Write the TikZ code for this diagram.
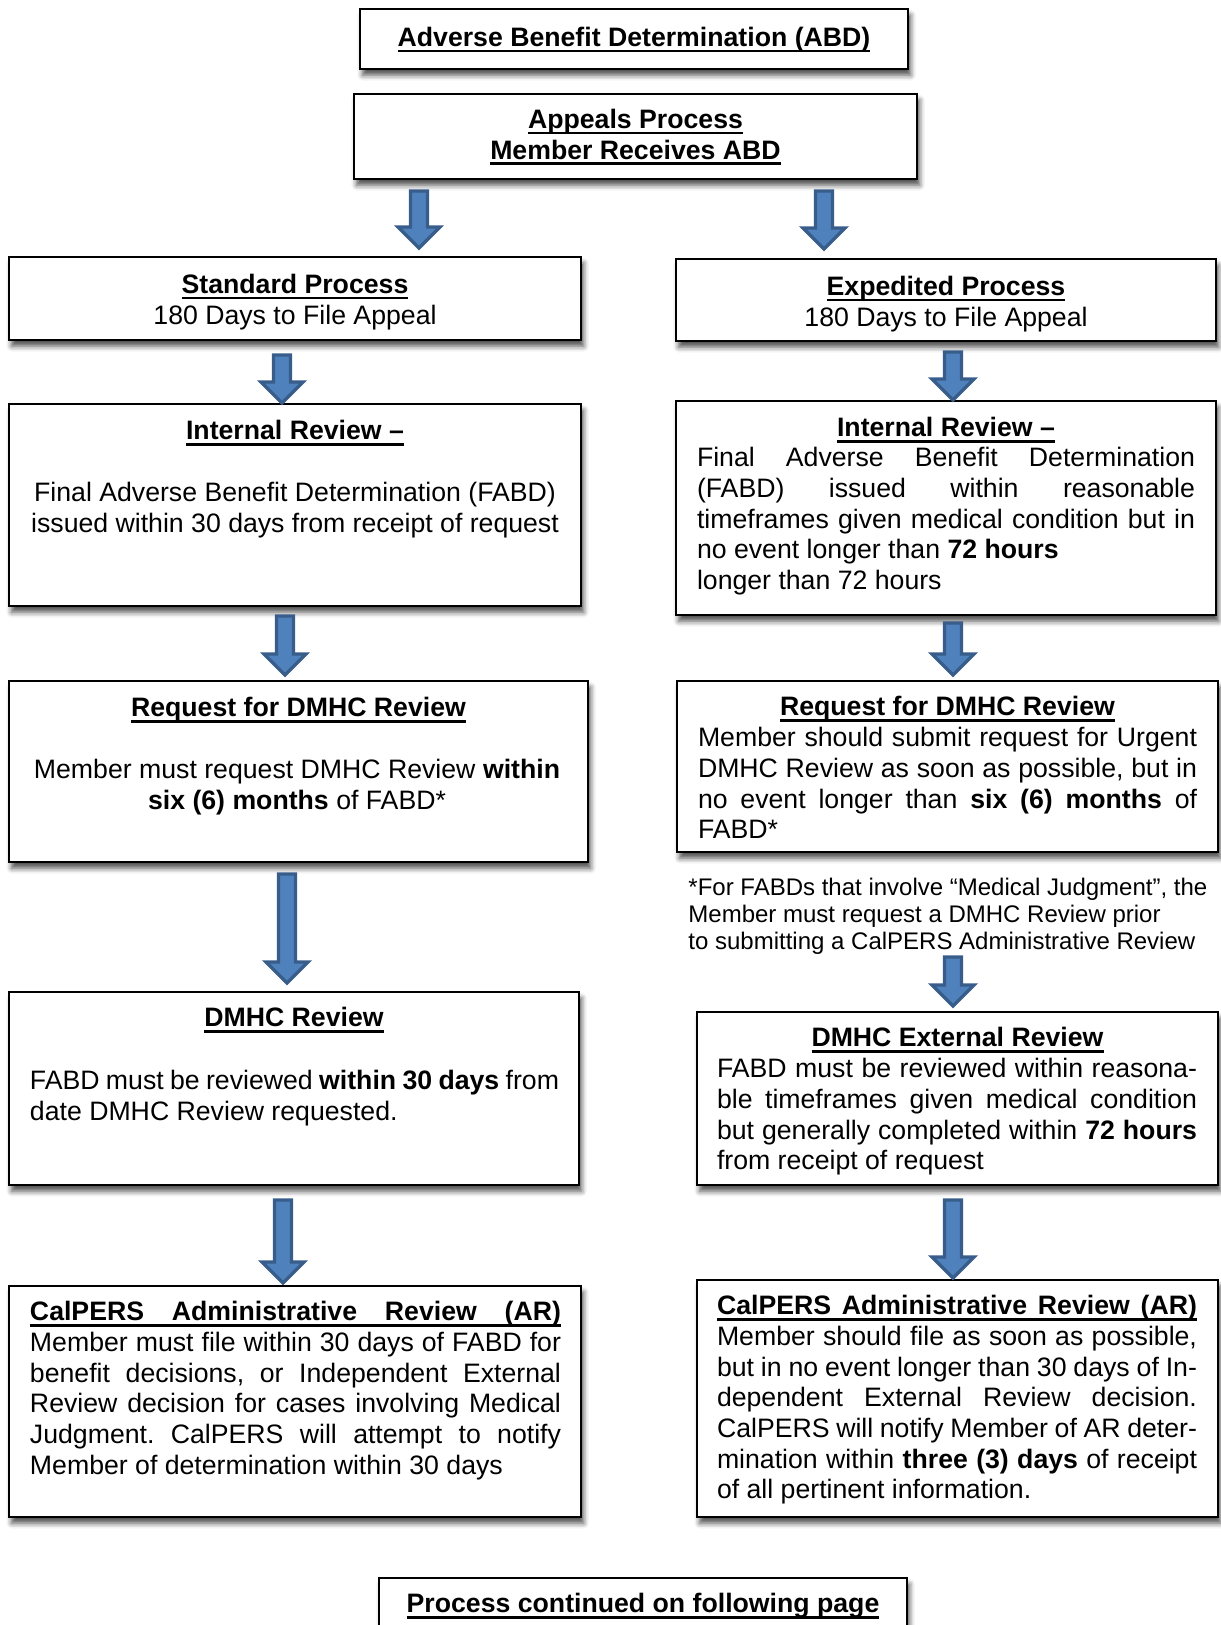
\documentclass[tikz,border=0pt]{standalone}
\usepackage{fontspec}
\setmainfont{Liberation Sans}
\usetikzlibrary{calc,shadows.blur}
\setlength{\parindent}{0pt}
\frenchspacing
\definecolor{arrfill}{HTML}{4F81BD}
\definecolor{arrline}{HTML}{385D8A}
\newcommand\uln[1]{\setbox0=\hbox{#1}\leavevmode\rlap{\rule[-2.5pt]{\wd0}{1.05pt}}\box0}
\newcommand\jl[1]{{\spaceskip=0pt\xspaceskip=0pt\makebox[\hsize][s]{#1}}}
\newcommand\mkbox[5]{%
  \pgfmathsetmacro\bw{(#4-#2)*0.45}\pgfmathsetmacro\bh{(#5-#3)*0.45}%
  \node[pbox, minimum width=\bw pt, minimum height=\bh pt] (#1) at ({(#2+#4)/2},{(#3+#5)/2}) {};}
\newcommand\blockarr[3]{%
  \coordinate (ba-s) at (#1);
  \coordinate (ba-e) at ($(ba-s |- #2)+(0,-#3)$);
  \draw[barrow] ($(ba-s)+(-8.5,0)$) -- ($(ba-s)+(8.5,0)$) -- ($(ba-e)+(8.5,-21)$) -- ($(ba-e)+(21,-21)$) -- (ba-e) -- ($(ba-e)+(-21,-21)$) -- ($(ba-e)+(-8.5,-21)$) -- cycle;}
\tikzset{
  pbox/.style={draw=black, line width=0.9pt, fill=white, rectangle, inner sep=0pt,
    blur shadow={shadow xshift=1.2pt, shadow yshift=-2.8pt, shadow blur radius=2.4pt, shadow opacity=70}},
  txt/.style={font=\fontsize{12pt}{13.8pt}\selectfont, inner sep=0pt, outer sep=0pt, anchor=north},
  ctxt/.style={txt, align=flush center, text width=252pt},
  jtxt/.style={txt, align=flush left},
  notetxt/.style={font=\fontsize{10.8pt}{12.2pt}\selectfont, inner sep=0pt, anchor=north west, align=flush left},
  barrow/.style={draw=arrline, fill=arrfill, line width=1.5pt, line join=miter},
}
\begin{document}
\begin{tikzpicture}[x=0.45pt, y=-0.45pt]
\useasboundingbox (0,0) rectangle (1220,1625);
% boxes
\mkbox{abd}{360}{9}{908}{69}
\mkbox{app}{354}{94}{917}{179}
\mkbox{std}{9}{257}{581}{340}
\mkbox{exp}{676}{259}{1216}{341}
\mkbox{intL}{9}{404}{581}{606}
\mkbox{intR}{676}{401}{1216}{615}
\mkbox{reqL}{9}{681}{588}{862}
\mkbox{reqR}{677}{681}{1218}{852}
\mkbox{dmL}{9}{992}{579}{1185}
\mkbox{dmE}{697}{1012}{1218}{1185}
\mkbox{calL}{9}{1286}{581}{1517}
\mkbox{calR}{697}{1280}{1218}{1517}
\mkbox{cont}{379}{1578}{907}{1660}
% texts
\node[ctxt] (abdT) at (634,25) {\strut\uln{\textbf{Adverse Benefit Determination (ABD)}}};
\node[ctxt] (appT) at (635.5,107) {\strut\uln{\textbf{Appeals Process}}\\\uln{\textbf{Member Receives ABD}}};
\node[ctxt] (stdT) at (295,272) {\strut\uln{\textbf{Standard Process}}\\180 Days to File Appeal};
\node[ctxt] (expT) at (946,274) {\strut\uln{\textbf{Expedited Process}}\\180 Days to File Appeal};
\node[ctxt] (intLH) at (295,418.5) {\strut\uln{\textbf{Internal Review –}}};
\node[ctxt] (intLB) at (295,480.5) {\strut Final Adverse Benefit Determination (FABD)\\issued within 30 days from receipt of request};
\node[ctxt] (intRH) at (946,415.5) {\strut\uln{\textbf{Internal Review –}}};
\node[jtxt, text width=224.1pt] (intRB) at (946,445.5) {\strut\jl{Final Adverse Benefit Determination}\\\jl{(FABD) issued within reasonable}\\\jl{timeframes given medical condition but in}\\no event longer than \textbf{72 hours}\\longer than 72 hours};
\node[ctxt] (reqLH) at (298.5,695.5) {\strut\uln{\textbf{Request for DMHC Review}}};
\node[ctxt] (reqLB) at (297,757.5) {\strut Member must request DMHC Review \textbf{within}\\\textbf{six (6) months} of FABD*};
\node[ctxt] (reqRH) at (947.5,694.5) {\strut\uln{\textbf{Request for DMHC Review}}};
\node[jtxt, text width=224.55pt] (reqRB) at (947.5,725.5) {\strut\jl{Member should submit request for Urgent}\\\jl{DMHC Review as soon as possible, but in}\\\jl{no event longer than \textbf{six (6) months} of}\\FABD*};
\node[notetxt] (note) at (688,876) {\strut*For FABDs that involve “Medical Judgment”, the\\Member must request a DMHC Review prior\\to submitting a CalPERS Administrative Review};
\node[ctxt] (dmLH) at (294,1005.5) {\strut\uln{\textbf{DMHC Review}}};
\node[jtxt, text width=238.05pt] (dmLB) at (294.5,1068.5) {\strut\jl{FABD must be reviewed \textbf{within 30 days} from}\\date DMHC Review requested.};
\node[ctxt] (dmEH) at (957.5,1025.5) {\strut\uln{\textbf{DMHC External Review}}};
\node[jtxt, text width=216pt] (dmEB) at (957,1056.5) {\strut\jl{FABD must be reviewed within reasona-}\\\jl{ble timeframes given medical condition}\\\jl{but generally completed within \textbf{72 hours}}\\from receipt of request};
\node[jtxt, text width=238.95pt] (calLB) at (295.5,1299.5) {\strut\uln{\jl{\textbf{CalPERS Administrative Review (AR)}}}\\\jl{Member must file within 30 days of FABD for}\\\jl{benefit decisions, or Independent External}\\\jl{Review decision for cases involving Medical}\\\jl{Judgment. CalPERS will attempt to notify}\\Member of determination within 30 days};
\node[jtxt, text width=216pt] (calRB) at (957,1293.5) {\strut\uln{\jl{\textbf{CalPERS Administrative Review (AR)}}}\\\jl{Member should file as soon as possible,}\\\jl{but in no event longer than 30 days of In-}\\\jl{dependent External Review decision.}\\\jl{CalPERS will notify Member of AR deter-}\\\jl{mination within \textbf{three (3) days} of receipt}\\of all pertinent information.};
\node[ctxt] (contT) at (643,1591.5) {\strut\uln{\textbf{Process continued on following page}}};
% arrows
\blockarr{$(app.south)+(-216.5,11)$}{std.north}{8}
\blockarr{$(app.south)+(188.5,11)$}{exp.north}{9}
\blockarr{$(std.south)+(-13,14)$}{intL.north}{0}
\blockarr{$(exp.south)+(7,10)$}{intR.north}{0}
\blockarr{$(intL.south)+(-10,9)$}{reqL.north}{5}
\blockarr{$(intR.south)+(7,7)$}{reqR.north}{5}
\blockarr{$(reqL.south)+(-11.5,11)$}{dmL.north}{8}
\blockarr{$(note.south -| dmE.north)+(-4.5,2)$}{dmE.north}{5}
\blockarr{$(dmL.south)+(-11,14)$}{calL.north}{2}
\blockarr{$(dmE.south)+(-4.5,14)$}{calR.north}{1}
\end{tikzpicture}
\end{document}
